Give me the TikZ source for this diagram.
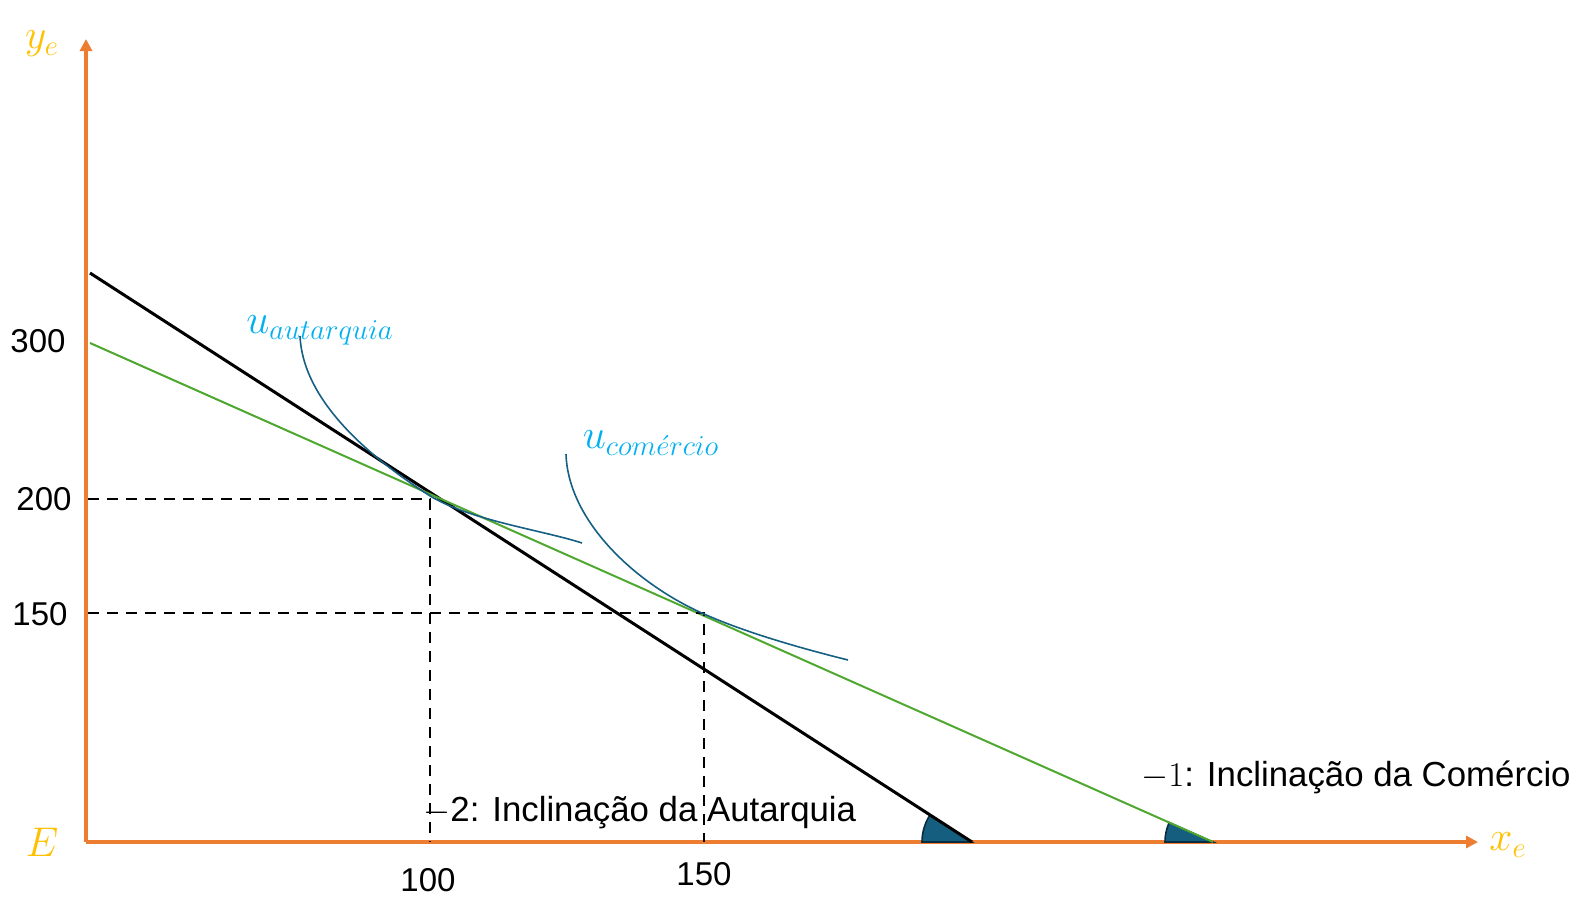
\RequirePackage{fix-cm}
\documentclass[tikz,border=0pt]{standalone}
\usepackage[no-math]{fontspec}
\setmainfont{Liberation Sans}
\usetikzlibrary{arrows.meta}
\definecolor{eixo}{RGB}{237,125,49}
\definecolor{rotulo}{RGB}{255,192,0}
\definecolor{verde}{RGB}{78,167,46}
\definecolor{ciano}{RGB}{0,176,240}
\definecolor{curva}{RGB}{21,96,130}
\definecolor{setor}{RGB}{22,94,128}
\definecolor{bordasetor}{RGB}{10,45,65}
\tikzset{
  eixos/.style={eixo,line width=2pt,-{Triangle[length=6pt,width=6pt]}},
  tracejado/.style={black,line width=1.4pt,dash pattern=on 5.5pt off 4pt},
  num/.style={font=\fontsize{16.5}{19}\selectfont},
  incl/.style={font=\fontsize{17.4}{20}\selectfont,anchor=west,inner sep=0pt},
  var/.style={text=rotulo,font=\huge},
  util/.style={text=ciano,font=\huge},
  angulo/.style={fill=setor,draw=bordasetor,line width=0.8pt},
}

\begin{document}
\begin{tikzpicture}[x=0.5pt,y=-0.5pt]
        \useasboundingbox (0,0) rectangle (1596,901);
        % eixos
        \coordinate (O) at (86,842);
        \coordinate (ytop) at (86,39);
        \coordinate (xtop) at (1478,842);
        \draw[eixos] (O) -- (ytop);
        \draw[eixos] (O) -- (xtop);
        \node[var] (ye) at (42,44) {$y_e$};
        \node[var] (E) at (42,842) {$E$};
        \node[var] (xe) at (1508,845) {$x_e$};
        % retas orcamentarias
        \coordinate (A0) at (90,273);
        \coordinate (A1) at (972,842);
        \coordinate (C0) at (90,343);
        \coordinate (C1) at (1213,842);
        \filldraw[angulo] (A1) -- ++(147.2:25pt) arc[start angle=147.2, end angle=180, radius=25pt] -- cycle;
        \filldraw[angulo] (C1) -- ++(156.1:24pt) arc[start angle=156.1, end angle=180, radius=24pt] -- cycle;
        \draw[line width=1.5pt] (A0) -- (A1);
        \draw[verde,line width=1pt] (C0) -- (C1);
        % tracejados
        \coordinate (P200) at (88,499);
        \coordinate (Q200) at (430,499);
        \coordinate (R100) at (430,842);
        \coordinate (P150) at (88,613);
        \coordinate (Q150) at (704,613);
        \coordinate (R150) at (704,842);
        \draw[tracejado] (P200) -- (Q200) -- (R100);
        \draw[tracejado] (P150) -- (Q150) -- (R150);
        % curvas de indiferenca
        \coordinate (TA) at (427,494);
        \coordinate (TC) at (704,614);
        \draw[curva,line width=0.8pt] (300,336) .. controls (303,400) and (367,455) .. (TA)
              .. controls (467,520) and (542,530) .. (582,543);
        \draw[curva,line width=0.8pt] (566,454) .. controls (568,520) and (634,583) .. (TC)
              .. controls (749,634) and (808,650) .. (848,660);
        \node[util] (uA) at (320,330) {$u_{autarquia}$};
        \node[util] (uC) at (651,443) {$u_{com\acute{e}rcio}$};
        % valores
        \node[num] (n300) at (38,341) {300};
        \node[num] (n200) at (44,499) {200};
        \node[num] (n150y) at (40,614) {150};
        \node[num] (n100) at (428,880) {100};
        \node[num] (n150x) at (704,874) {150};
        \node[incl] (inclA) at (423,813) {$-$2: Inclinação da Autarquia};
        \node[incl] (inclC) at (1141,777) {$-1$: Inclinação da Comércio};
\end{tikzpicture}
\end{document}
